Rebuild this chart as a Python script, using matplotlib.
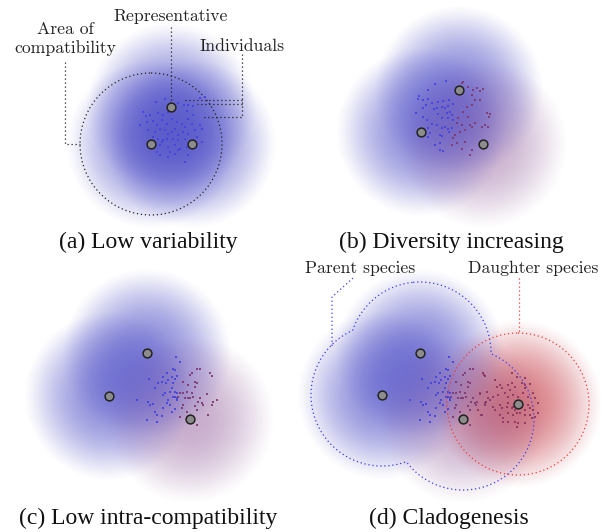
import numpy as np
import matplotlib.pyplot as plt
from matplotlib.patches import Circle
from matplotlib.colors import to_rgb

W, H = 606, 532

# representatives (pixel coords of the figure) and species colour of each
reps_a = [(171, 107), (151, 144), (192, 144)]
kind_a = ['blue', 'blue', 'blue']
reps_b = [(459, 90), (421, 132), (483, 144)]
kind_b = ['blue', 'blue', 'purple']
reps_c = [(147, 353), (109, 396), (190, 419)]
kind_c = ['blue', 'blue', 'purple']
reps_d = [(420, 353), (382, 395), (463, 419), (518, 404)]
kind_d = ['blue', 'blue', 'purple', 'red']

# individuals
ind_a = [(165, 99), (156, 102), (178, 103), (184, 105), (188, 105), (193, 106), (200, 98), (205, 97),
         (143, 112), (150, 115), (146, 116), (158, 113), (163, 115), (168, 112), (175, 110), (187, 111),
         (193, 115), (188, 119), (140, 125), (147, 122), (153, 121), (157, 125), (162, 120), (167, 124),
         (172, 119), (177, 122), (182, 124), (185, 127), (192, 124), (200, 125), (202, 129), (148, 130),
         (155, 132), (160, 129), (165, 130), (168, 134), (172, 132), (175, 129), (178, 135), (183, 132),
         (188, 134), (195, 130), (153, 137), (158, 139), (163, 140), (167, 139), (173, 139), (178, 140),
         (185, 139), (197, 137), (160, 145), (162, 142), (168, 147), (175, 145), (180, 149), (187, 147),
         (202, 142), (157, 152), (160, 155), (170, 152), (175, 154), (178, 150), (188, 155), (185, 162),
         (168, 157)]

ind_b_blue = [(435, 84), (446, 81), (428, 90), (419, 96), (418, 99), (423, 100), (428, 99), (426, 105),
              (416, 113), (423, 108), (432, 103), (438, 102), (443, 101), (449, 100), (437, 108),
              (442, 107), (445, 108), (434, 109), (448, 106), (453, 104), (450, 112), (447, 113),
              (452, 115), (423, 117), (427, 120), (438, 114), (442, 118), (448, 118), (453, 120),
              (432, 124), (437, 125), (442, 128), (445, 127), (448, 129), (452, 128), (428, 128),
              (430, 133), (440, 135), (442, 136), (428, 137), (435, 145), (440, 143), (440, 150),
              (443, 151), (449, 132)]
ind_b_purple = [(462, 83), (463, 82), (468, 87), (473, 90), (477, 88), (480, 91), (483, 89), (472, 95),
                (480, 100), (475, 100), (472, 105), (467, 107), (487, 113), (489, 117), (490, 114),
                (463, 112), (468, 117), (458, 118), (457, 123), (462, 125), (470, 125), (472, 127),
                (475, 123), (482, 127), (485, 125), (488, 127), (460, 132), (465, 130), (455, 135),
                (453, 138), (457, 143), (465, 142), (462, 149), (470, 155), (472, 150), (452, 145)]

ind_c_blue = [(176, 357), (180, 362), (173, 369), (175, 370), (167, 373), (172, 377), (163, 377),
              (162, 382), (158, 383), (149, 379), (168, 380), (175, 379), (177, 376), (166, 383),
              (173, 383), (172, 388), (170, 392), (175, 392), (177, 393), (165, 393), (163, 395),
              (155, 388), (137, 400), (148, 402), (150, 405), (153, 404), (168, 400), (167, 403),
              (170, 405), (172, 412), (163, 408), (155, 412), (157, 415), (162, 416), (147, 420),
              (157, 422), (175, 409), (177, 398), (173, 397), (175, 397), (177, 400)]
ind_c_purple = [(192, 373), (190, 375), (197, 369), (200, 369), (210, 373), (212, 376), (183, 382),
                (188, 385), (195, 382), (197, 383), (195, 387), (180, 393), (183, 393), (187, 392),
                (192, 393), (178, 397), (185, 398), (188, 398), (190, 398), (193, 397), (200, 398),
                (207, 394), (213, 402), (217, 400), (198, 402), (202, 403), (203, 405), (212, 405),
                (183, 405), (182, 408), (195, 406), (187, 412), (197, 410), (208, 415), (180, 417),
                (197, 425)]
shift_d = 273  # panel (d) starts from the population of panel (c)
ind_d_red = [(483, 373), (484, 375), (495, 380), (500, 385), (508, 385), (512, 383), (497, 387),
             (502, 388), (510, 390), (515, 387), (522, 383), (525, 385), (530, 384), (525, 388),
             (480, 393), (487, 392), (488, 398), (485, 403), (493, 397), (498, 395), (505, 393),
             (508, 397), (513, 395), (518, 397), (523, 393), (528, 397), (533, 393), (535, 398),
             (538, 403), (477, 402), (478, 410), (482, 415), (493, 407), (495, 410), (500, 405),
             (502, 408), (507, 407), (508, 403), (512, 408), (513, 407), (515, 410), (522, 407),
             (525, 410), (528, 405), (530, 408), (533, 410), (538, 413), (500, 415), (503, 418),
             (508, 413), (513, 415), (517, 413), (520, 413), (525, 415), (530, 415), (532, 418),
             (535, 417), (518, 423), (525, 423), (515, 422), (508, 422), (503, 422), (517, 427),
             (512, 373), (517, 377), (525, 378)]

captions = ['(a) Low variability', '(b) Diversity increasing',
            '(c) Low intra-compatibility', '(d) Cladogenesis']
caption_xy = [(148, 242), (451, 242), (148, 518), (449, 518)]

glow_col = {'blue': '#5050c8', 'purple': '#84488e', 'red': '#c84650'}
glow_str = {'blue': 0.66, 'purple': 0.45, 'red': 0.7}
dot_col = {'blue': '#4444dc', 'purple': '#7c3a72', 'red': '#8e3660'}
R_comp = 71
R_glow = 85

gx, gy = np.meshgrid(np.arange(W) + 0.5, np.arange(H) + 0.5)

fig = plt.figure(figsize=(W / 100, H / 100), dpi=100)
ax = fig.add_axes([0, 0, 1, 1])

# soft areas: alphas combined like stacked layers, colours blended by weight
keep = np.ones((H, W))
rgb_sum = np.zeros((H, W, 3))
w_sum = np.full((H, W), 1e-9)
for reps, kinds in [(reps_a, kind_a), (reps_b, kind_b), (reps_c, kind_c), (reps_d, kind_d)]:
    for (x, y), k in zip(reps, kinds):
        r = np.hypot(gx - x, gy - y)
        a = glow_str[k] * np.clip(1 - (r / R_glow) ** 2, 0, 1) ** 1.3
        keep *= 1 - a
        rgb_sum += a[..., None] * np.array(to_rgb(glow_col[k]))
        w_sum += a
img = np.dstack([rgb_sum / w_sum[..., None], 1 - keep])
ax.imshow(np.clip(img, 0, 1), extent=(0, W, H, 0), interpolation='bilinear', zorder=1)

dots = dict(marker='s', s=4.5, linewidths=0, alpha=0.9, zorder=4)
ax.scatter(*zip(*ind_a), color=dot_col['blue'], **dots)
ax.scatter(*zip(*ind_b_blue), color=dot_col['blue'], **dots)
ax.scatter(*zip(*ind_b_purple), color=dot_col['purple'], **dots)
ax.scatter(*zip(*ind_c_blue), color=dot_col['blue'], **dots)
ax.scatter(*zip(*ind_c_purple), color=dot_col['purple'], **dots)
ax.scatter([p[0] + shift_d for p in ind_c_blue], [p[1] for p in ind_c_blue], color=dot_col['blue'], **dots)
ax.scatter([p[0] + shift_d for p in ind_c_purple], [p[1] for p in ind_c_purple], color=dot_col['purple'], **dots)
ax.scatter(*zip(*ind_d_red), color=dot_col['red'], **dots)

for reps in [reps_a, reps_b, reps_c, reps_d]:
    ax.scatter(*zip(*reps), s=40, color='#8c8c8c', edgecolors='#222222', linewidths=1.1, zorder=6)

dotted = (0, (1, 2.2))
# area of compatibility in (a)
ax.add_patch(Circle(reps_a[1], R_comp, fill=False, ec='#222222', lw=0.9, ls=dotted, zorder=3))

# (d): parent species outline = union of compatibility areas, daughter = single circle
parent = [p for p, k in zip(reps_d, kind_d) if k != 'red']
dist = np.min([np.hypot(gx - x, gy - y) for x, y in parent], axis=0)
cs = ax.contour(gx, gy, dist, levels=[R_comp], colors='#3a3af0', linewidths=0.9, zorder=3)
cs.set_linestyle(dotted)
ax.add_patch(Circle(reps_d[3], R_comp, fill=False, ec='#f03a3a', lw=0.9, ls=dotted, zorder=3))

# leader lines
lk = dict(color='#222222', lw=0.9, ls=dotted, zorder=5)
ax.plot([65, 65, 80], [62, 144, 144], **lk)
ax.plot([171, 171], [27, 102], **lk)
ax.plot([242, 242, 203], [54, 117, 117], **lk)
ax.plot([242, 184], [100, 100], **lk)
ax.plot([242, 197], [104, 104], **lk)
ax.plot([353, 332, 332], [278, 297, 346], color='#3a3af0', lw=0.9, ls=dotted, zorder=5)
ax.plot([519, 519], [278, 333], color='#f03a3a', lw=0.9, ls=dotted, zorder=5)

af = dict(family='cmr10', fontsize=12.7, ha='center', va='center', color='#222222')
ax.text(65, 29, 'Area of', **af)
ax.text(65, 48, 'compatibility', **af)
ax.text(171, 16, 'Representative', **af)
ax.text(242, 46, 'Individuals', **af)
ax.text(360, 268, 'Parent species', **af)
ax.text(533, 268, 'Daughter species', **af)

for t, (x, y) in zip(captions, caption_xy):
    ax.text(x, y, t, family='Liberation Serif', fontsize=17, ha='center', va='center', color='#111111')

ax.set_xlim(0, W)
ax.set_ylim(H, 0)
ax.axis('off')
fig.savefig('out.png', dpi=100)
